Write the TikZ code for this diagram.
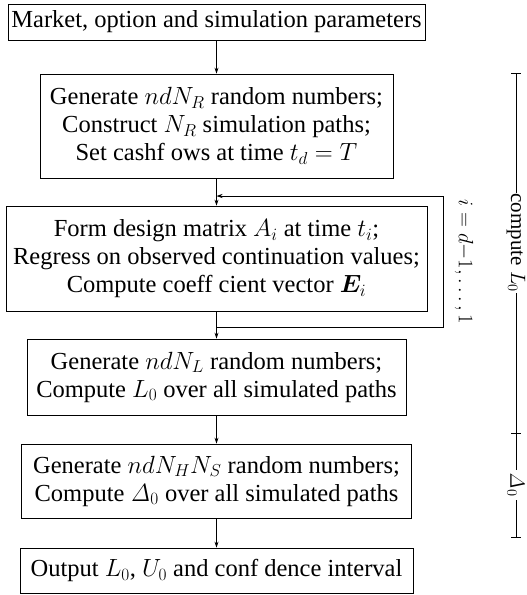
\documentclass[tikz,border=0pt]{standalone}
\usepackage[no-math]{fontspec}
\setmainfont{Liberation Serif}
\usepackage{amsmath,bm}
\usetikzlibrary{arrows.meta}
\begin{document}
\begin{tikzpicture}[x=1pt,y=-1pt,
  box/.style={draw, line width=0.8pt, align=center, inner sep=0pt, font=\fontsize{24.5}{28}\selectfont},
  arr/.style={-{Stealth[length=6pt,width=4pt]}, line width=0.7pt},
  lbl/.style={rotate=-90, fill=white, inner sep=3pt, font=\fontsize{21}{25}\selectfont}]
\useasboundingbox (0,0) rectangle (527,595);
\node[box, minimum width=417pt, minimum height=36pt] (b1) at (216.5,22) {Market, option and simulation parameters};
\node[box, minimum width=353pt, minimum height=104pt] (b2) at (216.5,126) {Generate $ndN_R$ random numbers;\\ Construct $N_R$ simulation paths;\\ Set cashf ows at time $t_d=T$};
\node[box, minimum width=421pt, minimum height=105pt] (b3) at (216.5,258.5) {Form design matrix $A_i$ at time $t_i$;\\ Regress on observed continuation values;\\ Compute coeff cient vector $\bm{E}_i$};
\node[box, minimum width=379pt, minimum height=76pt] (b4) at (216.5,377) {Generate $ndN_L$ random numbers;\\ Compute $L_0$ over all simulated paths};
\node[box, minimum width=390pt, minimum height=74pt] (b5) at (216.5,481) {Generate $ndN_HN_S$ random numbers;\\ Compute $\mathit{\Delta}_0$ over all simulated paths};
\node[box, minimum width=393pt, minimum height=45pt] (b6) at (216.5,570.5) {Output $L_0$, $U_0$ and conf dence interval};
\draw[arr] (b1) -- (b2);
\draw[arr] (b2) -- (b3);
\draw[arr] (b3) -- (b4);
\draw[arr] (b4) -- (b5);
\draw[arr] (b5) -- (b6);
\coordinate (lp1) at (216.5,327);
\coordinate (lp2) at (443,327);
\coordinate (lp3) at (443,196);
\coordinate (lp4) at (216.5,196);
\draw[arr] (lp1) -- (lp2) -- (lp3) -- (lp4);
\node[rotate=-90, inner sep=0pt, font=\fontsize{21}{25}\selectfont] (il) at (464,262) {$i=d{-}1,\ldots,1$};
% bracket
\coordinate (t1) at (516,73);
\coordinate (t2) at (516,433);
\coordinate (t3) at (516,537);
\draw[line width=0.7pt] (t1) -- (t3);
\draw[line width=0.7pt] ([xshift=-5pt]t1) -- ([xshift=5pt]t1);
\draw[line width=0.7pt] ([xshift=-5pt]t2) -- ([xshift=5pt]t2);
\draw[line width=0.7pt] ([xshift=-5pt]t3) -- ([xshift=5pt]t3);
\node[lbl, inner xsep=1pt, inner ysep=2pt] (cl) at (516,243) {compute $L_0$};
\node[lbl] (dl) at (516,485) {$\mathit{\Delta}_0$};
\end{tikzpicture}
\end{document}
